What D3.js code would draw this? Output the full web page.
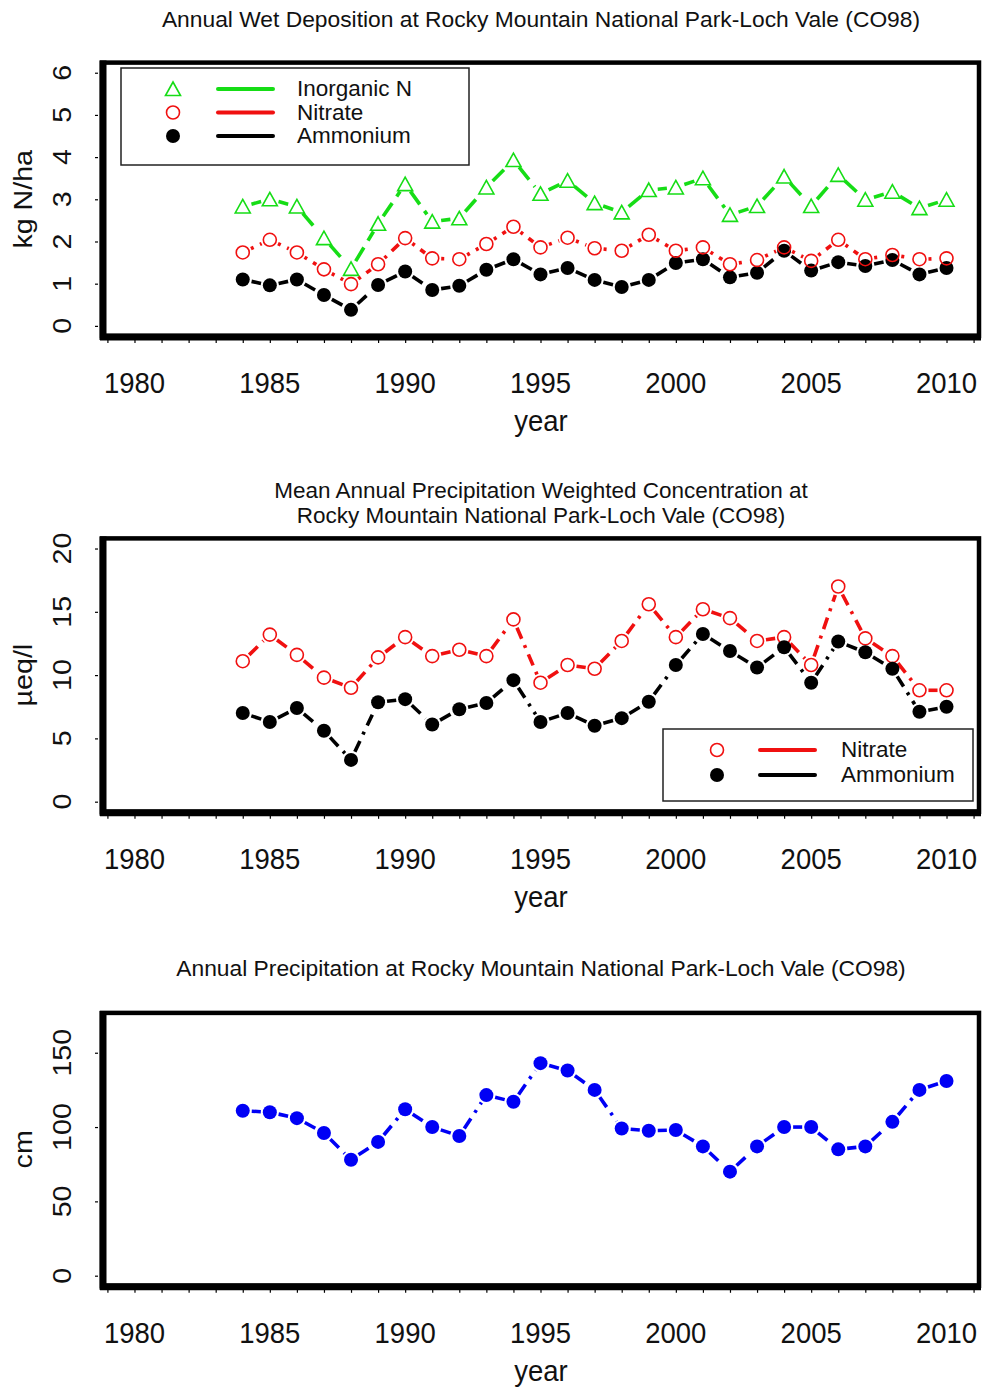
<!DOCTYPE html>
<html>
<head>
<meta charset="utf-8">
<script src="https://cdn.jsdelivr.net/npm/d3@7"></script>
<style>
  body { margin: 0; background: #fff; }
  text { font-family: "Liberation Sans", Arial, sans-serif; fill: #111; }
</style>
</head>
<body>
<svg id="chart" width="984" height="1391"></svg>
<script>
// ---- data -------------------------------------------------------------
const years = d3.range(1984, 2011);
const yearTicks = [1980, 1985, 1990, 1995, 2000, 2005, 2010];

// Annual wet deposition, kg N/ha
const depInorganicN = [2.83, 3.00, 2.83, 2.08, 1.35, 2.42, 3.36, 2.47, 2.55, 3.28, 3.93,
                       3.13, 3.44, 2.91, 2.69, 3.22, 3.28, 3.50, 2.63, 2.84, 3.54, 2.84,
                       3.58, 2.99, 3.18, 2.79, 2.99];
const depNitrate    = [1.74, 2.04, 1.74, 1.34, 0.99, 1.46, 2.08, 1.60, 1.58, 1.94, 2.35,
                       1.86, 2.09, 1.84, 1.78, 2.16, 1.78, 1.86, 1.46, 1.56, 1.86, 1.54,
                       2.04, 1.58, 1.68, 1.58, 1.60];
const depAmmonium   = [1.10, 0.96, 1.10, 0.73, 0.38, 0.97, 1.29, 0.85, 0.95, 1.33, 1.58,
                       1.22, 1.37, 1.09, 0.92, 1.09, 1.49, 1.58, 1.15, 1.26, 1.78, 1.31,
                       1.51, 1.42, 1.56, 1.22, 1.37];

// Precipitation weighted mean concentration, µeq/l
const concNitrate   = [11.1, 13.2, 11.6, 9.8, 9.0, 11.4, 13.0, 11.5, 12.0, 11.5, 14.4,
                       9.4, 10.8, 10.5, 12.7, 15.6, 13.0, 15.2, 14.5, 12.7, 13.0, 10.8,
                       17.0, 12.9, 11.5, 8.8, 8.8];
const concAmmonium  = [7.0, 6.3, 7.4, 5.6, 3.3, 7.85, 8.1, 6.1, 7.3, 7.8, 9.6,
                       6.3, 7.0, 6.0, 6.6, 7.9, 10.8, 13.25, 11.9, 10.6, 12.2, 9.4,
                       12.65, 11.8, 10.5, 7.1, 7.5];

// Annual precipitation, cm
const precipCm      = [111, 110, 106, 96, 78, 90, 112, 100, 94, 121.5, 117,
                       143, 138, 125, 99, 97.5, 98, 87, 70, 87, 100, 100,
                       85, 87, 103.5, 125, 131];

// ---- styles ------------------------------------------------------------
const GREEN = "#16dd16", RED = "#f01010", BLACK = "#000", BLUE = "#0000f5";
const svg = d3.select("#chart");
const STRETCH = 1.1;   // axis text is drawn slightly tall

// shared x scale (1980–2010 plus a 4% margin on each side)
const x = d3.scaleLinear().domain([1978.8, 2011.2]).range([102, 979]);

function marker(g, kind, color, px, py) {
  if (kind === "tri") {
    const h = 13, w = 7.5;
    g.append("path")
      .attr("d", `M${px},${py - h / 2 - 0.5} L${px + w},${py + h / 2} L${px - w},${py + h / 2} Z`)
      .attr("fill", "none").attr("stroke", color).attr("stroke-width", 1.6);
  } else if (kind === "open") {
    g.append("circle").attr("cx", px).attr("cy", py).attr("r", 6.5)
      .attr("fill", "none").attr("stroke", color).attr("stroke-width", 1.6);
  } else {
    g.append("circle").attr("cx", px).attr("cy", py).attr("r", 7)
      .attr("fill", color);
  }
}

function hText(g, str, tx, ty, size, anchor, stretch) {
  return g.append("text")
    .attr("transform", `translate(${tx},${ty}) scale(1,${stretch || STRETCH})`)
    .attr("text-anchor", anchor || "middle")
    .attr("font-size", size)
    .text(str);
}

function vText(g, str, tx, ty, size, dy) {
  return g.append("text")
    .attr("transform", `translate(${tx},${ty}) scale(1,${STRETCH}) rotate(-90)`)
    .attr("text-anchor", "middle")
    .attr("font-size", size)
    .attr("dy", dy || 0)
    .text(str);
}

function panel(cfg) {
  const g = svg.append("g");
  const y = d3.scaleLinear().domain(cfg.yDomain).range(cfg.yRange);
  const [x0, x1] = x.range();
  const [yb, yt] = cfg.yRange;

  // titles
  cfg.title.forEach((t, i) => {
    g.append("text").attr("x", 541).attr("y", cfg.titleY + i * 25.2)
      .attr("text-anchor", "middle").attr("font-size", cfg.titleSize || 22.8).text(t);
  });

  // series: dashed connecting segments with gaps around the symbols, then symbols
  const gap = 9;
  cfg.series.forEach(s => {
    const pts = years.map((yr, i) => [x(yr), y(s.values[i])]);
    const line = d3.line();
    for (let i = 0; i < pts.length - 1; i++) {
      const [ax, ay] = pts[i], [bx, by] = pts[i + 1];
      const len = Math.hypot(bx - ax, by - ay);
      if (len <= 2 * gap + 2) continue;
      const ux = (bx - ax) / len, uy = (by - ay) / len;
      g.append("path")
        .attr("d", line([[ax + ux * gap, ay + uy * gap], [bx - ux * gap, by - uy * gap]]))
        .attr("fill", "none").attr("stroke", s.color).attr("stroke-width", 3.6)
        .attr("stroke-dasharray", s.dash);
    }
  });
  cfg.series.forEach(s => {
    years.forEach((yr, i) => marker(g, s.kind, s.color, x(yr), y(s.values[i])));
  });

  // frame with heavier left and bottom edges
  g.append("rect").attr("x", x0).attr("y", yt).attr("width", x1 - x0).attr("height", yb - yt)
    .attr("fill", "none").attr("stroke", "#000").attr("stroke-width", 4.5);
  g.append("line").attr("x1", x0 + 1).attr("x2", x0 + 1).attr("y1", yt - 2).attr("y2", yb + 4)
    .attr("stroke", "#000").attr("stroke-width", 7);
  g.append("line").attr("x1", x0 - 2).attr("x2", x1 + 2).attr("y1", yb + 1).attr("y2", yb + 1)
    .attr("stroke", "#000").attr("stroke-width", 7);

  // x axis: yearly ticks, labels every five years
  const xAxis = d3.axisBottom(x).tickValues(d3.range(1979, 2012)).tickSize(3).tickFormat("");
  g.append("g").attr("transform", `translate(0,${yb + 4})`).call(xAxis)
    .call(a => a.select(".domain").remove())
    .call(a => a.selectAll("line").attr("stroke", "#000").attr("stroke-width", 1.2));
  yearTicks.forEach(t => hText(g, String(t), x(t), yb + 57, 27.5));
  hText(g, "year", 541, yb + 95, 27.5);

  // y axis
  const yAxis = d3.axisLeft(y).tickValues(cfg.yTicks).tickSize(3).tickFormat("");
  g.append("g").attr("transform", `translate(${x0 - 4},0)`).call(yAxis)
    .call(a => a.select(".domain").remove())
    .call(a => a.selectAll("line").attr("stroke", "#000").attr("stroke-width", 1.2));
  cfg.yTicks.forEach(t => vText(g, String(t), 62, y(t), 26, "0.36em"));
  vText(g, cfg.yLabel, 32, (yb + yt) / 2, 26);

  // legend
  if (cfg.legend) {
    const L = cfg.legend;
    g.append("rect").attr("x", L.x).attr("y", L.y).attr("width", L.w).attr("height", L.h)
      .attr("fill", "#fff").attr("stroke", "#222").attr("stroke-width", 1.5);
    L.items.forEach((it, i) => {
      const ry = L.rowY + i * L.step;
      marker(g, it.kind, it.color, L.x + L.symDx, ry);
      g.append("line").attr("x1", L.x + L.lineDx).attr("x2", L.x + L.lineDx + 55)
        .attr("y1", ry).attr("y2", ry)
        .attr("stroke", it.color).attr("stroke-width", 4).attr("stroke-linecap", "round");
      hText(g, it.label, L.x + L.textDx, ry + 7, 22.5, "start", 1);
    });
  }
}

panel({
  title: ["Annual Wet Deposition at Rocky Mountain National Park-Loch Vale (CO98)"],
  titleY: 27,
  yDomain: [-0.24, 6.24], yRange: [336, 62.6], yTicks: [0, 1, 2, 3, 4, 5, 6],
  yLabel: "kg N/ha",
  series: [
    { values: depInorganicN, color: GREEN, kind: "tri",  dash: "16,8" },
    { values: depAmmonium,   color: BLACK, kind: "dot",  dash: "12,7,3,7" },
    { values: depNitrate,    color: RED,   kind: "open", dash: "3,7,12,7" }
  ],
  legend: {
    x: 121, y: 68, w: 348, h: 97, rowY: 89, step: 23.5, symDx: 52, lineDx: 97, textDx: 176,
    items: [
      { label: "Inorganic N", color: GREEN, kind: "tri" },
      { label: "Nitrate",     color: RED,   kind: "open" },
      { label: "Ammonium",    color: BLACK, kind: "dot" }
    ]
  }
});

panel({
  title: ["Mean Annual Precipitation Weighted Concentration at",
          "Rocky Mountain National Park-Loch Vale (CO98)"],
  titleY: 498, titleSize: 22.5,
  yDomain: [-0.8, 20.8], yRange: [811.8, 538.4], yTicks: [0, 5, 10, 15, 20],
  yLabel: "µeq/l",
  series: [
    { values: concNitrate,  color: RED,   kind: "open", dash: "12,7,3,7" },
    { values: concAmmonium, color: BLACK, kind: "dot",  dash: "12,7,3,7" }
  ],
  legend: {
    x: 663, y: 729, w: 310, h: 72, rowY: 750, step: 25, symDx: 54, lineDx: 97, textDx: 178,
    items: [
      { label: "Nitrate",  color: RED,   kind: "open" },
      { label: "Ammonium", color: BLACK, kind: "dot" }
    ]
  }
});

panel({
  title: ["Annual Precipitation at Rocky Mountain National Park-Loch Vale (CO98)"],
  titleY: 976,
  yDomain: [-6.8, 176.8], yRange: [1285.8, 1012.9], yTicks: [0, 50, 100, 150],
  yLabel: "cm",
  series: [
    { values: precipCm, color: BLUE, kind: "dot", dash: "12,7,3,7" }
  ]
});
</script>
</body>
</html>
